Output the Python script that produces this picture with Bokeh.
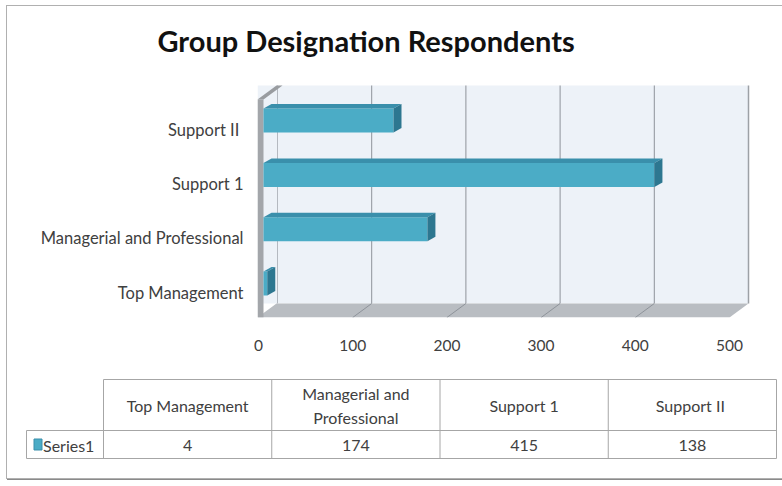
from bokeh.plotting import figure
from bokeh.layouts import column
from bokeh.models import Range1d, FixedTicker, ColumnDataSource
from bokeh.core.properties import value
from bokeh.embed import file_html
from bokeh.resources import INLINE

# ---------------- data ----------------
title_text = "Group Designation Respondents"
categories = ["Top Management", "Managerial and Professional", "Support 1", "Support  II"]
table_headers = ["Top Management", "Managerial and\nProfessional", "Support 1", "Support  II"]
values = [4, 174, 415, 138]
x_ticks = [0, 100, 200, 300, 400, 500]
series_name = "Series1"

# ---------------- styling / geometry ----------------
FONT = "Lato"
TXT = "#404040"
BAR_FRONT = "#4bacc6"
BAR_TOP = "#3a8fab"
BAR_END = "#2d7790"
WALL = "#edf2f8"
FLOOR = "#b9bdc2"
SLAB = "#a3a6aa"
GRID = "#8e939a"

PX_X = 0.942     # pixels per value unit
PX_Y = 54.3      # pixels per category step
DXW = 19 / PX_X  # wall depth (x)
DYW = 14 / PX_Y  # wall depth (y)
BX0 = 5 / PX_X   # bar front-face offset from wall
BDX = 8 / PX_X   # bar depth (x)
BDY = 4.5 / PX_Y # bar depth (y)
B_LO = 3 / PX_Y  # bar front face below category
B_HI = 21 / PX_Y # bar front face above category

W = 775
H1 = 366
H2 = 106
FL, FR, FT, FB = 250, 743, 53, 311   # frame edges (px)
WALL_TOP_PX = 79
X0PX, C0PX = 251, 286                # pixel of value 0 / first category

x_start = (FL - X0PX) / PX_X
x_end = (FR - X0PX) / PX_X
y_end = (C0PX - FT) / PX_Y
y_start = (C0PX - FB) / PX_Y
wall_top = (C0PX - WALL_TOP_PX) / PX_Y
floor_back = y_start + DYW
x_max = x_ticks[-1]

p = figure(width=W, height=H1, output_backend="svg", toolbar_location=None,
           x_range=Range1d(x_start, x_end), y_range=Range1d(y_start, y_end),
           min_border_left=FL, min_border_right=W - FR,
           min_border_top=FT, min_border_bottom=H1 - FB,
           background_fill_color="white", border_fill_color="white",
           outline_line_color=None, title=title_text)
p.frame_align = False
p.title.text_font = FONT
p.title.text_font_size = "29px"
p.title.text_font_style = "bold"
p.title.text_color = "#111111"
p.title.align = "left"
p.title.offset = -100
p.title.standoff = 4
p.grid.visible = False

# back wall (incl. inner face of side wall)
p.quad(left=[x_start], right=[x_max + DXW], bottom=[floor_back], top=[wall_top],
       fill_color=WALL, line_color=None)
inner = x_ticks[1:-1]
p.segment(x0=[t + DXW for t in inner], y0=[floor_back] * len(inner),
          x1=[t + DXW for t in inner], y1=[wall_top] * len(inner),
          line_color=GRID, line_width=1)
p.segment(x0=[DXW, x_max + DXW], y0=[floor_back, floor_back],
          x1=[DXW, x_max + DXW], y1=[wall_top, wall_top],
          line_color=["#b4b9c0", "#9da1a6"], line_width=[1, 1.5])
# floor
p.patch(x=[x_start, x_max, x_max + DXW, x_start + DXW],
        y=[y_start, y_start, floor_back, floor_back],
        fill_color=FLOOR, line_color=None)
p.segment(x0=[t + DXW for t in inner], y0=[floor_back] * len(inner),
          x1=inner, y1=[y_start] * len(inner), line_color=GRID, line_width=1)
# side wall slab (front strip + top wedge)
p.quad(left=[x_start], right=[BX0], bottom=[y_start], top=[wall_top - DYW],
       fill_color=SLAB, line_color=None)
p.patch(x=[x_start, BX0, BX0 + DXW, x_start + DXW],
        y=[wall_top - DYW, wall_top - DYW, wall_top, wall_top],
        fill_color="#999ca0", line_color=None)

# bars
ys = list(range(len(categories)))
src = ColumnDataSource(dict(
    left=[BX0] * len(values),
    right=[v + BX0 for v in values],
    bottom=[c - B_LO for c in ys],
    top=[c + B_HI for c in ys],
))
p.quad(left="left", right="right", bottom="bottom", top="top", source=src,
       fill_color=BAR_FRONT, line_color=None)
top_xs = [[BX0, v + BX0, v + BX0 + BDX, BX0 + BDX] for v in values]
top_ys = [[c + B_HI, c + B_HI, c + B_HI + BDY, c + B_HI + BDY] for c in ys]
p.patches(xs=top_xs, ys=top_ys, fill_color=BAR_TOP, line_color=None)
end_xs = [[v + BX0, v + BX0 + BDX, v + BX0 + BDX, v + BX0] for v in values]
end_ys = [[c - B_LO, c - B_LO + BDY, c + B_HI + BDY, c + B_HI] for c in ys]
p.patches(xs=end_xs, ys=end_ys, fill_color=BAR_END, line_color=None)

# axes
p.xaxis.ticker = FixedTicker(ticks=x_ticks)
p.xaxis.axis_line_color = None
p.xaxis.major_tick_line_color = None
p.xaxis.minor_tick_line_color = None
p.xaxis.major_label_standoff = 16
p.xaxis.major_label_text_font = FONT
p.xaxis.major_label_text_font_size = "15.5px"
p.xaxis.major_label_text_color = TXT

p.yaxis.ticker = FixedTicker(ticks=ys)
p.yaxis.major_label_overrides = {c: name for c, name in zip(ys, categories)}
p.yaxis.axis_line_color = None
p.yaxis.major_tick_line_color = None
p.yaxis.minor_tick_line_color = None
p.yaxis.major_label_standoff = 8
p.yaxis.major_label_text_font = FONT
p.yaxis.major_label_text_font_size = "16.5px"
p.yaxis.major_label_text_color = TXT

# ---------------- data table ----------------
CW = 168.25
COL0 = 96
RH_W = 77
tx_start = -0.5 - COL0 / CW
tx_end = tx_start + W / CW
t = figure(width=W, height=H2, output_backend="svg", toolbar_location=None,
           x_range=Range1d(tx_start, tx_end), y_range=Range1d(H2, 0),
           min_border=0, outline_line_color=None,
           background_fill_color="white", border_fill_color="white")
t.frame_align = False
t.axis.visible = False
t.grid.visible = False

n = len(values)
rh_left = -0.5 - RH_W / CW
y_top, y_mid, y_bot = 7, 58, 86
LINE = "#a6a6a6"
t.segment(x0=[-0.5, rh_left, rh_left], y0=[y_top, y_mid, y_bot],
          x1=[n - 0.5] * 3, y1=[y_top, y_mid, y_bot], line_color=LINE, line_width=1)
vx = [i - 0.5 for i in range(n + 1)]
t.segment(x0=vx, y0=[y_top] * len(vx), x1=vx, y1=[y_bot] * len(vx),
          line_color=LINE, line_width=1)
t.segment(x0=[rh_left], y0=[y_mid], x1=[rh_left], y1=[y_bot], line_color=LINE, line_width=1)

cols = list(range(n))
t.text(x=cols, y=[(y_top + y_mid) / 2 + 0.5] * n, text=table_headers,
       text_align="center", text_baseline="middle", text_font=value(FONT),
       text_font_size="16px", text_color=TXT, text_line_height=1.3)
t.text(x=cols, y=[(y_mid + y_bot) / 2 + 1] * n, text=[str(v) for v in values],
       text_align="center", text_baseline="middle", text_font=value(FONT),
       text_font_size="16px", text_color=TXT)
t.rect(x=[rh_left + 11.5 / CW], y=[(y_mid + y_bot) / 2], width=8 / CW, height=11,
       fill_color=BAR_FRONT, line_color="#3a8fab")
t.text(x=[rh_left + 16.5 / CW], y=[(y_mid + y_bot) / 2 + 1], text=[series_name],
       text_align="left", text_baseline="middle", text_font=value(FONT),
       text_font_size="16px", text_color=TXT)

layout = column(p, t, spacing=0,
                styles={"margin-left": "7px", "margin-top": "6px",
                        "outline": "1px solid #b0b0b0",
                        "box-shadow": "0 2px 0 #8a8a8a"})

open("out.html", "w").write(file_html(layout, INLINE))
